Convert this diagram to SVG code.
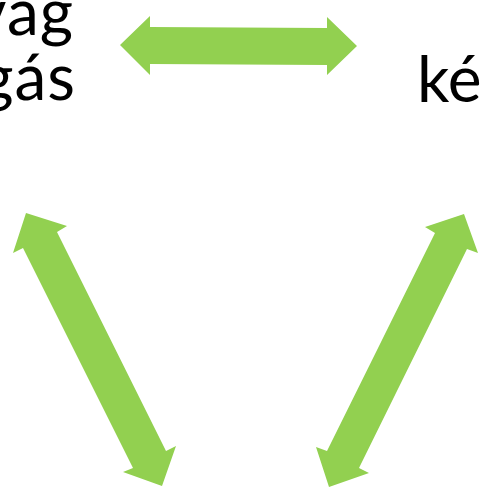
<svg xmlns="http://www.w3.org/2000/svg" width="481" height="491" viewBox="0 0 481 491">
  <style>
    .label { font-family: Lato, "Liberation Sans", sans-serif; font-size: 64px; fill: #000000; }
    .arrow { fill: #92D050; stroke: none; }
  </style>
  <rect width="481" height="491" fill="#ffffff"/>

  <!-- left node: two-line label, partly outside the view -->
  <g id="node-left">
    <text class="label" x="74" y="35" text-anchor="end" letter-spacing="1">vag</text>
    <text class="label" x="76" y="100" text-anchor="end" letter-spacing="1">gás</text>
  </g>

  <!-- right node: label partly outside the view -->
  <g id="node-right">
    <text class="label" x="417" y="102" font-size="61">ké</text>
  </g>

  <!-- double-headed block arrows between the nodes -->
  <g id="connectors">
    <polygon class="arrow" points="120,45 150,16 150,27 327,28 327,17 357,46 327,75 327,65 150,64 150,75"/>
    <polygon class="arrow" points="26,213 67,226 57,232 166,451 176,446 162,486 123,472 133,468 23,248 13,253"/>
    <polygon class="arrow" points="464,214 478,253 467,249 359,468 369,473 329,487 316,447 327,451 435,233 425,227"/>
  </g>
</svg>
